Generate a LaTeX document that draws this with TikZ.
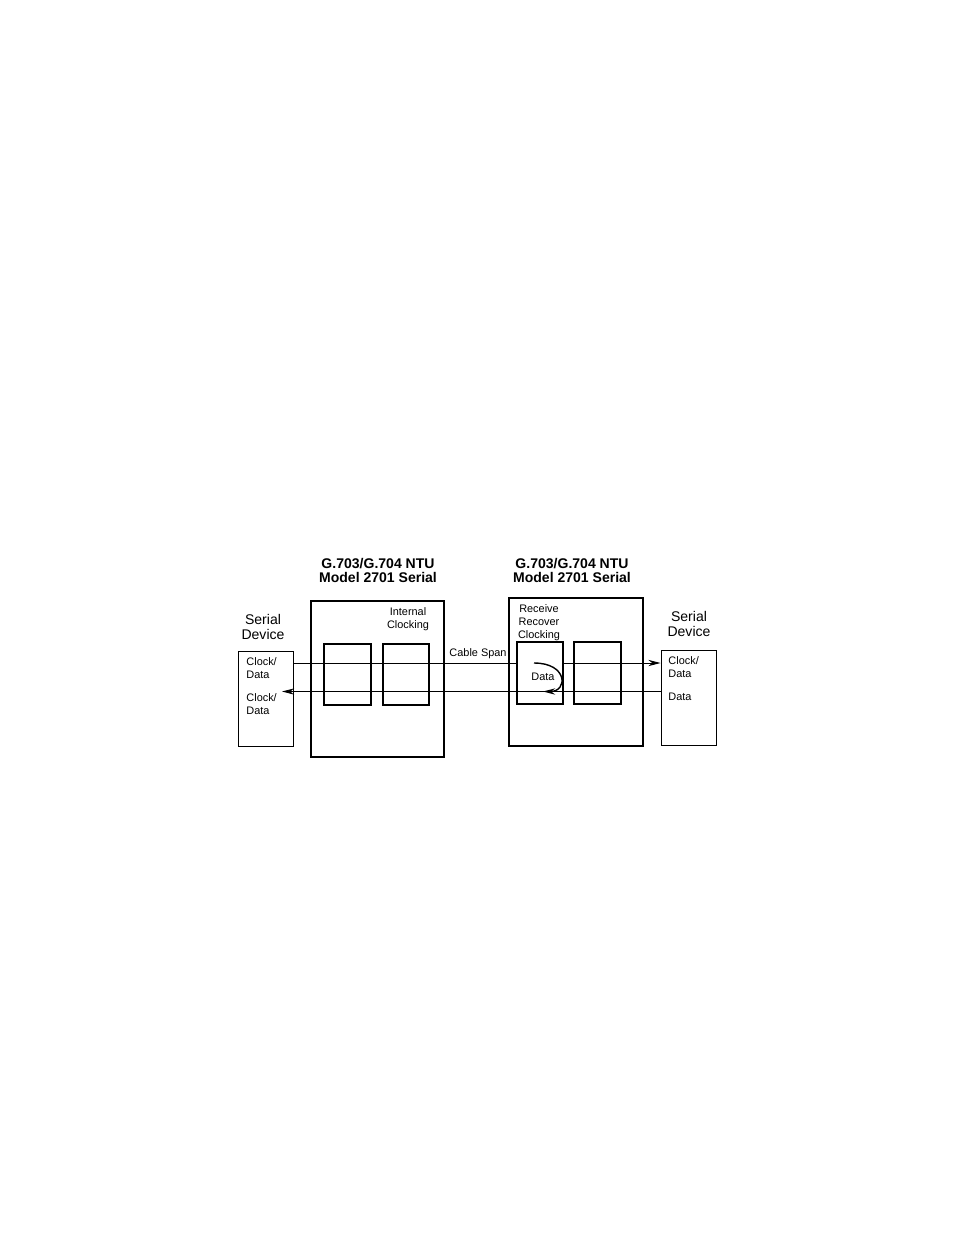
\documentclass[tikz,border=0pt]{standalone}
\usepackage{fontspec}
\setmainfont{Liberation Sans}
\usetikzlibrary{arrows.meta}

\newcommand{\px}{0.6415pt}

\tikzset{
    box/.style={draw, rectangle, inner sep=0pt},
    title/.style={font=\fontsize{9}{9}\selectfont\bfseries, align=center, inner sep=0pt},
    devlabel/.style={font=\fontsize{9}{10}\selectfont, align=center, inner sep=0pt},
    small/.style={font=\fontsize{7}{8.3}\selectfont, inner sep=0pt},
    arr/.style={-{Stealth[length=7.8pt, width=4pt]}},
}

\begin{document}
\begin{tikzpicture}[x=\px, y=-\px, line width=0.6pt]
        \useasboundingbox (0,0) rectangle (954,1235);

        % units
        \node (lntu) [box, line width=0.8pt, minimum width=133*\px, minimum height=156*\px] at (377.5,679) {};
        \node (boxa) [box, line width=0.9pt, minimum width=47*\px, minimum height=61*\px] at (347.5,674.5) {};
        \node (boxb) [box, line width=1.3pt, minimum width=46*\px, minimum height=61*\px] at (406,674.5) {};
        \node (rntu) [box, line width=1.3pt, minimum width=134*\px, minimum height=148*\px] at (576,672) {};
        \node (boxc) [box, line width=1.1pt, minimum width=46*\px, minimum height=62*\px] at (540,673) {};
        \node (boxd) [box, line width=1pt, minimum width=47*\px, minimum height=62*\px] at (597.5,673) {};

        % serial devices
        \node (ldev) [box, minimum width=55*\px, minimum height=95*\px] at (265.5,698.5) {};
        \node (rdev) [box, minimum width=55*\px, minimum height=95*\px] at (688.5,697.5) {};

        % labels
        \node (ltitle) [title] at (378,570) {G.703/G.704 NTU\\Model 2701 Serial};
        \node (rtitle) [title] at (572,570) {G.703/G.704 NTU\\Model 2701 Serial};
        \node (lname) [devlabel] at (263,627) {Serial\\Device};
        \node (rname) [devlabel] at (689,624) {Serial\\Device};
        \node (intclk) [small, align=center] at (408,619) {Internal\\Clocking};
        \node (rcvclk) [small, align=center] at (539,622.5) {Receive\\Recover\\Clocking};
        \node (span) [small] at (478,653.5) {Cable Span};
        \node (loopdata) [small] at (543,677) {Data};
        \node (lports) [small, align=left, anchor=north west] at (246,657) {Clock/\\Data\\[6.4pt]Clock/\\Data};
        \node (rports) [small, align=left, anchor=north west] at (668,656) {Clock/\\Data\\[6.4pt]Data};

        % lines
        \coordinate (tx) at (0,663);
        \coordinate (rx) at (0,691.5);
        \coordinate (rxend) at (282,691.5);
        \coordinate (loopin) at (534,663);
        \coordinate (loopout) at (543,691.5);

        \draw (ldev.east |- tx) -- (boxc.west |- tx);
        \draw[arr] (boxc.east |- tx) -- (rdev.west |- tx);
        \draw[arr] (rdev.west |- rx) -- (rxend);
        \draw[arr, line width=0.9pt] (loopin) .. controls (568,663) and (568,691.5) .. (loopout);
    \end{tikzpicture}
\end{document}
